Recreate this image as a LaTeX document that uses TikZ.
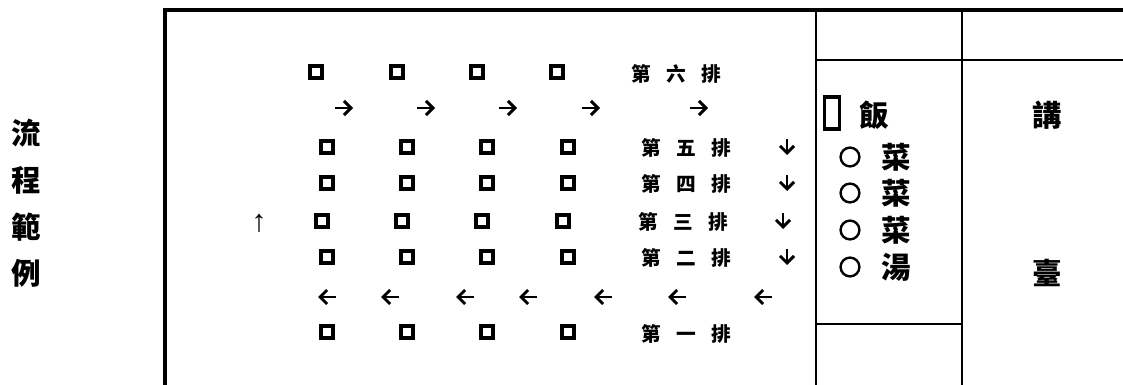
\documentclass[tikz,border=0pt]{standalone}
\usepackage{fontspec}
\usepackage{tikz}
\usetikzlibrary{positioning,arrows.meta}
\newfontfamily\cjk{Noto Sans CJK TC}
\newfontfamily\arrowfont{Liberation Sans}
\newcommand{\pai}[1]{第\hspace{0.38cm}#1\hspace{0.38cm}排}

\begin{document}
\begin{tikzpicture}[x=0.025cm, y=-0.025cm,
    seat/.style={draw, line width=2.5pt, minimum size=0.3cm, inner sep=0pt},
    dish/.style={draw, circle, line width=1.7pt, minimum size=0.47cm, inner sep=0pt},
    rowtag/.style={font=\cjk\bfseries\fontsize{14}{16}\selectfont, inner sep=0pt},
    flow/.style={line width=2.1pt, -{Straight Barb[length=5pt,width=10pt]}},
    big/.style={font=\cjk\bfseries\fontsize{21}{23}\selectfont, inner sep=0pt},
    outer/.style={line width=2.8pt},
    rule/.style={line width=1.4pt}]
        \useasboundingbox (0,0) rectangle (1123,385);

        % Frame and table
        \draw[outer] (165,390) -- (165,10) -- (1130,10);
        \draw[rule] (816,10) -- (816,390);
        \draw[rule] (962,10) -- (962,390);
        \draw[rule] (816,60) -- (1130,60);
        \draw[rule] (816,324) -- (962,324);

        % Title
        \node[big] (t1) at (26,133) {流};
        \node[big] (t2) at (26,180) {程};
        \node[big] (t3) at (26,227) {範};
        \node[big] (t4) at (26,273) {例};

        % Row six
        \foreach \x [count=\i] in {316,397,477,557}
            \node[seat] (r6s\i) at (\x,72) {};
        \node[rowtag] (r6) at (676,74) {\pai{六}};
        \foreach \x in {344,426,508,591,699}
            \draw[flow] (\x-9,108) -- (\x+9,108);

        % Rows five to two
        \foreach \x [count=\i] in {327,407,487,568}
            \node[seat] (r5s\i) at (\x,147) {};
        \node[rowtag] (r5) at (686,148) {\pai{五}};
        \draw[flow] (787,139) -- (787,155);
        \foreach \x [count=\i] in {327,407,487,568}
            \node[seat] (r4s\i) at (\x,183) {};
        \node[rowtag] (r4) at (686,184) {\pai{四}};
        \draw[flow] (787,175) -- (787,191);
        \foreach \x [count=\i] in {322,402,482,563}
            \node[seat] (r3s\i) at (\x,221) {};
        \node[rowtag] (r3) at (683,222) {\pai{三}};
        \draw[flow] (783,213) -- (783,229);
        \node[font=\arrowfont\fontsize{22}{24}\selectfont, inner sep=0pt] (up) at (259,223) {↑};
        \foreach \x [count=\i] in {327,407,487,568}
            \node[seat] (r2s\i) at (\x,257) {};
        \node[rowtag] (r2) at (686,258) {\pai{二}};
        \draw[flow] (787,249) -- (787,265);

        % Back row of arrows and row one
        \foreach \x in {327,390,465,528,603,677,763}
            \draw[flow] (\x+9,297) -- (\x-9,297);
        \foreach \x [count=\i] in {327,407,487,568}
            \node[seat] (r1s\i) at (\x,332) {};
        \node[rowtag] (r1) at (686,334) {\pai{一}};

        % Menu
        \node[draw, line width=2.4pt, minimum width=0.37cm, minimum height=0.8cm, inner sep=0pt] (box) at (832,113) {};
        \node[big] (rice) at (874,115) {飯};
        \node[dish] (o1) at (850,157) {};
        \node[big] (m1) at (896,157) {菜};
        \node[dish] (o2) at (850,193) {};
        \node[big] (m2) at (896,193) {菜};
        \node[dish] (o3) at (850,230) {};
        \node[big] (m3) at (896,230) {菜};
        \node[dish] (o4) at (850,267) {};
        \node[big] (soup) at (896,267) {湯};

        % Stage
        \node[big] (s1) at (1047,115) {講};
        \node[big] (s2) at (1047,273) {臺};
\end{tikzpicture}
\end{document}
